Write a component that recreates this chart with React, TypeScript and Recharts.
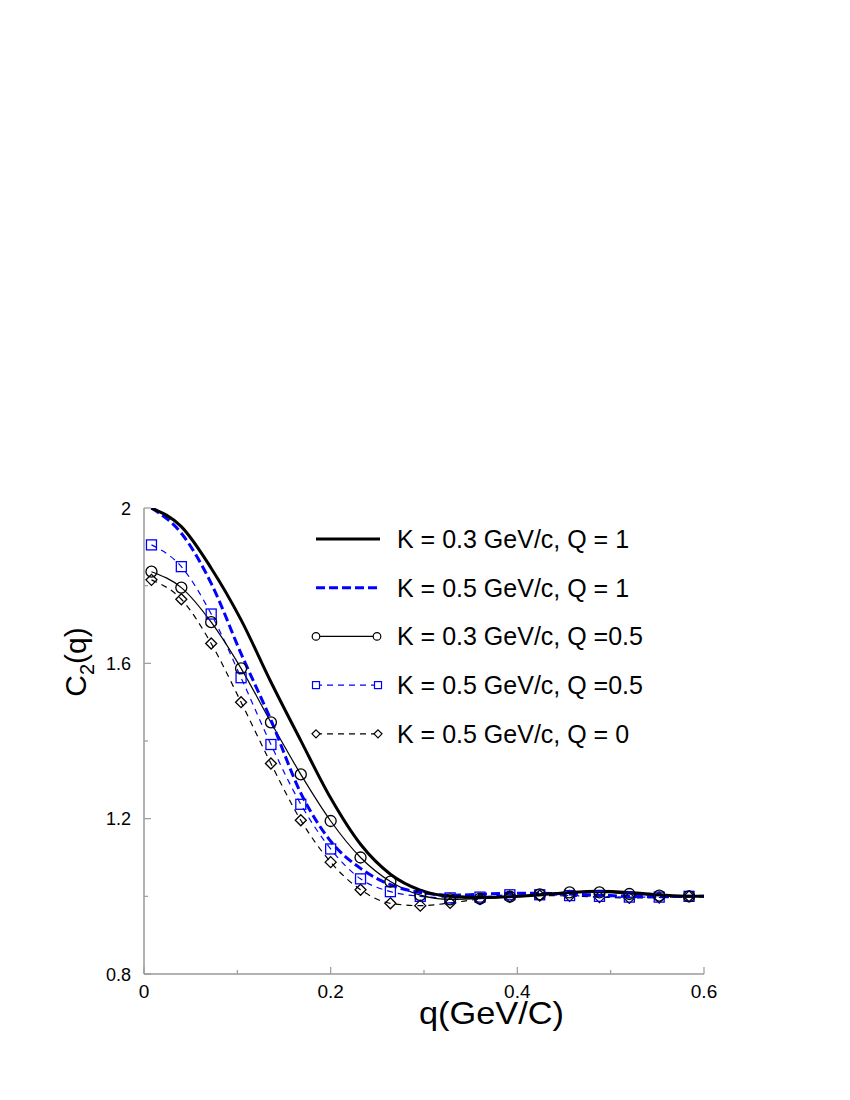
import { LineChart, Line, XAxis, YAxis, Legend } from "recharts";

// q grid where the markers sit (the two smooth curves also run on to the frame at 0.6)
const qValues = [0.008, 0.040, 0.072, 0.104, 0.136, 0.168, 0.200, 0.232, 0.264, 0.296, 0.328, 0.360, 0.392, 0.424, 0.456, 0.488, 0.520, 0.552, 0.584, 0.600];

const k03q1 = [2.000, 1.952, 1.845, 1.712, 1.552, 1.401, 1.253, 1.134, 1.057, 1.016, 1.000, 0.997, 0.999, 1.004, 1.010, 1.013, 1.010, 1.004, 1.000, 1.000];
const k05q1 = [2.000, 1.935, 1.806, 1.625, 1.454, 1.266, 1.142, 1.072, 1.030, 1.010, 1.003, 1.005, 1.008, 1.008, 1.006, 1.003, 1.000, 0.999, 1.000, 1.000];
const k03q05 = [1.836, 1.795, 1.706, 1.587, 1.448, 1.314, 1.194, 1.100, 1.038, 1.003, 0.992, 0.994, 0.999, 1.005, 1.010, 1.010, 1.006, 1.002, 1.000];
const k05q05 = [1.905, 1.849, 1.727, 1.563, 1.391, 1.237, 1.122, 1.045, 1.012, 1.000, 0.996, 0.998, 1.004, 1.004, 1.002, 1.000, 0.998, 0.998, 1.000];
const k05q0 = [1.815, 1.765, 1.651, 1.500, 1.342, 1.196, 1.088, 1.017, 0.982, 0.976, 0.983, 0.993, 0.999, 1.002, 1.001, 0.998, 0.996, 0.997, 1.000];

const xTicks = [0, 0.1, 0.2, 0.3, 0.4, 0.5, 0.6];
const xMajor = [0, 0.2, 0.4, 0.6];
const yTicks = [0.8, 1.0, 1.2, 1.4, 1.6, 1.8, 2.0];
const yMajor = [0.8, 1.2, 1.6, 2.0];

const legendLabels = [
  "K = 0.3 GeV/c, Q = 1",
  "K = 0.5 GeV/c, Q = 1",
  "K = 0.3 GeV/c, Q =0.5",
  "K = 0.5 GeV/c, Q =0.5",
  "K = 0.5 GeV/c, Q = 0",
];

const data = qValues.map((q, i) => ({
  q,
  a: k03q1[i],
  b: k05q1[i],
  c: k03q05[i] ?? null,
  d: k05q05[i] ?? null,
  e: k05q0[i] ?? null,
}));

const FONT = "'Liberation Sans', Arial, sans-serif";
const FRAME = "#9a9a9a";
const BLUE = "#0000ff";

const isMajor = (v: number, list: number[]) => list.some((m) => Math.abs(m - v) < 1e-6);

const BottomTick = (p: any) => {
  const major = isMajor(p.payload.value, xMajor);
  return (
    <g>
      <line x1={p.x} y1={p.y} x2={p.x} y2={p.y - (major ? 7 : 4)} stroke={FRAME} strokeWidth={1.2} />
      {major && (
        <text x={p.x} y={p.y + 24} textAnchor="middle" fontSize={19} fontFamily={FONT} fill="#000">
          {String(p.payload.value)}
        </text>
      )}
    </g>
  );
};

const TopTick = (p: any) => {
  const major = isMajor(p.payload.value, xMajor);
  return <line x1={p.x} y1={p.y} x2={p.x} y2={p.y + (major ? 7 : 4)} stroke={FRAME} strokeWidth={1.2} />;
};

const LeftTick = (p: any) => {
  const major = isMajor(p.payload.value, yMajor);
  return (
    <g>
      <line x1={p.x} y1={p.y} x2={p.x + (major ? 7 : 4)} y2={p.y} stroke={FRAME} strokeWidth={1.2} />
      {major && (
        <text x={p.x - 13} y={p.y + 6.5} textAnchor="end" fontSize={18} fontFamily={FONT} fill="#000">
          {String(p.payload.value)}
        </text>
      )}
    </g>
  );
};

const RightTick = (p: any) => {
  const major = isMajor(p.payload.value, yMajor);
  return <line x1={p.x} y1={p.y} x2={p.x - (major ? 7 : 4)} y2={p.y} stroke={FRAME} strokeWidth={1.2} />;
};

const circleDot = (p: any) =>
  p.value == null ? <g key={`c${p.index}`} /> : (
    <circle key={`c${p.index}`} cx={p.cx} cy={p.cy} r={5.5} fill="none" stroke="#000" strokeWidth={1.3} />
  );
const squareDot = (p: any) =>
  p.value == null ? <g key={`s${p.index}`} /> : (
    <rect key={`s${p.index}`} x={p.cx - 5} y={p.cy - 5} width={10} height={10} fill="none" stroke={BLUE} strokeWidth={1.3} />
  );
const diamondDot = (p: any) =>
  p.value == null ? <g key={`d${p.index}`} /> : (
    <path key={`d${p.index}`} d={`M${p.cx},${p.cy - 5.5}L${p.cx + 5.5},${p.cy}L${p.cx},${p.cy + 5.5}L${p.cx - 5.5},${p.cy}Z`} fill="none" stroke="#000" strokeWidth={1.3} />
  );

const LegendBox = () => {
  const rowY = (i: number) => 29 + i * 48.7;
  return (
    <svg width={420} height={250} style={{ overflow: "visible" }}>
      {legendLabels.map((label, i) => {
        const y = rowY(i);
        let seg = null;
        if (i === 0) seg = <line x1={16} y1={y} x2={80} y2={y} stroke="#000" strokeWidth={3} />;
        if (i === 1) seg = <line x1={16} y1={y} x2={80} y2={y} stroke={BLUE} strokeWidth={3} strokeDasharray="9 4" />;
        if (i === 2)
          seg = (
            <g>
              <line x1={16} y1={y} x2={77} y2={y} stroke="#000" strokeWidth={1.2} />
              <circle cx={16} cy={y} r={3.8} fill="#fff" stroke="#000" strokeWidth={1.2} />
              <circle cx={77} cy={y} r={3.8} fill="#fff" stroke="#000" strokeWidth={1.2} />
            </g>
          );
        if (i === 3)
          seg = (
            <g>
              <line x1={16} y1={y} x2={78} y2={y} stroke={BLUE} strokeWidth={1.2} strokeDasharray="6 5" />
              <rect x={12.5} y={y - 3.5} width={7} height={7} fill="#fff" stroke={BLUE} strokeWidth={1.2} />
              <rect x={74.5} y={y - 3.5} width={7} height={7} fill="#fff" stroke={BLUE} strokeWidth={1.2} />
            </g>
          );
        if (i === 4)
          seg = (
            <g>
              <line x1={16} y1={y} x2={78} y2={y} stroke="#000" strokeWidth={1.2} strokeDasharray="6 5" />
              <path d={`M16,${y - 4}L20,${y}L16,${y + 4}L12,${y}Z`} fill="#fff" stroke="#000" strokeWidth={1.2} />
              <path d={`M78,${y - 4}L82,${y}L78,${y + 4}L74,${y}Z`} fill="#fff" stroke="#000" strokeWidth={1.2} />
            </g>
          );
        return (
          <g key={label}>
            {seg}
            <text x={97} y={y + 9} fontSize={25} fontFamily={FONT} fill="#000">
              {label}
            </text>
          </g>
        );
      })}
    </svg>
  );
};

export default function App() {
  return (
    <div style={{ position: "absolute", left: 0, top: 0, width: 850, height: 1100, background: "#fff" }}>
      <LineChart
        width={850}
        height={1100}
        data={data}
        margin={{ top: 508, right: 146, bottom: 96, left: 84 }}
        style={{ fontFamily: FONT }}
      >
        <XAxis
          dataKey="q"
          type="number"
          domain={[0, 0.6]}
          ticks={xTicks}
          interval={0}
          allowDataOverflow
          height={30}
          axisLine={{ stroke: FRAME, strokeWidth: 1.5 }}
          tickLine={false}
          tickSize={0}
          tickMargin={0}
          tick={BottomTick}
        />
        <XAxis
          xAxisId="top"
          orientation="top"
          dataKey="q"
          type="number"
          domain={[0, 0.6]}
          ticks={xTicks}
          interval={0}
          allowDataOverflow
          height={0}
          axisLine={{ stroke: FRAME, strokeWidth: 1.5 }}
          tickLine={false}
          tickSize={0}
          tickMargin={0}
          tick={TopTick}
        />
        <YAxis
          type="number"
          domain={[0.8, 2]}
          ticks={yTicks}
          interval={0}
          allowDataOverflow
          width={60}
          axisLine={{ stroke: FRAME, strokeWidth: 1.5 }}
          tickLine={false}
          tickSize={0}
          tickMargin={0}
          tick={LeftTick}
        />
        <YAxis
          yAxisId="right"
          orientation="right"
          type="number"
          domain={[0.8, 2]}
          ticks={yTicks}
          interval={0}
          allowDataOverflow
          width={0}
          axisLine={{ stroke: FRAME, strokeWidth: 1.5 }}
          tickLine={false}
          tickSize={0}
          tickMargin={0}
          tick={RightTick}
        />
        <Legend
          layout="vertical"
          align="center"
          verticalAlign="middle"
          wrapperStyle={{ position: "absolute", left: 300, top: 510, width: 420, height: 250 }}
          content={<LegendBox />}
        />
        <Line dataKey="e" type="monotone" stroke="#000" strokeWidth={1.2} strokeDasharray="6 5" dot={diamondDot} isAnimationActive={false} />
        <Line dataKey="d" type="monotone" stroke={BLUE} strokeWidth={1.2} strokeDasharray="6 5" dot={squareDot} isAnimationActive={false} />
        <Line dataKey="c" type="monotone" stroke="#000" strokeWidth={1.2} dot={circleDot} isAnimationActive={false} />
        <Line dataKey="b" type="monotone" stroke={BLUE} strokeWidth={3} strokeDasharray="9 4" dot={false} isAnimationActive={false} />
        <Line dataKey="a" type="monotone" stroke="#000" strokeWidth={3} dot={false} isAnimationActive={false} />
      </LineChart>
      <svg width={850} height={1100} style={{ position: "absolute", left: 0, top: 0, pointerEvents: "none" }}>
        <text x={491.5} y={1024} textAnchor="middle" fontSize={32} fontFamily={FONT} fill="#000" textLength={145} lengthAdjust="spacingAndGlyphs">
          q(GeV/C)
        </text>
        <text transform="translate(86,662) rotate(-90)" textAnchor="middle" fontSize={30} fontFamily={FONT} fill="#000">
          C
          <tspan fontSize={20} dy={8}>2</tspan>
          <tspan dy={-8}>(q)</tspan>
        </text>
      </svg>
    </div>
  );
}
